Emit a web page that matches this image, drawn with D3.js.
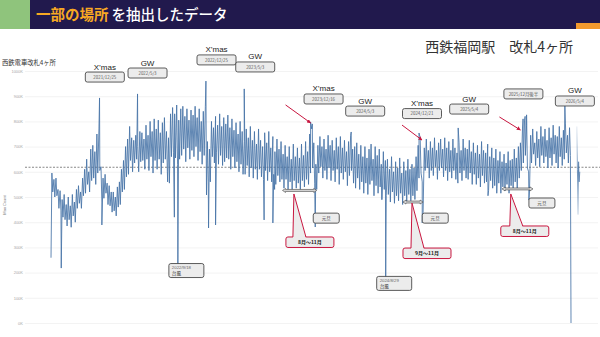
<!DOCTYPE html>
<html>
<head>
<meta charset="utf-8">
<script src="https://cdn.jsdelivr.net/npm/d3@7"></script>
<style>
  html, body { margin: 0; padding: 0; background: #fff; }
  svg { display: block; }
</style>
</head>
<body>
<svg id="chart" width="600" height="337"></svg>
<script>
/* ── data (values in thousands) ───────────────────────────────────── */

// each row of weekly values starts on the Monday given here
const weekStarts = ['2021-07-12', '2022-01-03', '2023-01-02', '2024-01-01', '2024-12-30', '2025-12-29'];

// weekday peak / weekend trough per week
const hi2021 = [595, 570, 575, 530, 525, 490, 510, 470, 500, 465, 510, 480, 530, 545, 520, 575, 610, 650, 600, 690, 705, 680, 750, 770, 620];
const lo2021 = [520, 500, 505, 455, 445, 420, 410, 385, 410, 380, 425, 400, 455, 475, 455, 505, 515, 550, 520, 565, 575, 550, 595, 605, 480];

const hi2022 = [575, 590, 555, 545, 520, 520, 500, 540, 560, 610, 645, 700, 730, 780, 735, 725, 745,
                700, 760, 755, 730, 785, 745, 800, 760, 810, 770, 805, 755, 795, 815, 760, 735, 830, 855,
                830, 865, 805, 850, 860, 820, 850, 805, 845, 825, 860, 815, 850, 800, 840, 860, 720];
const lo2022 = [495, 515, 470, 465, 440, 445, 425, 460, 470, 520, 530, 580, 590, 645, 600, 635, 650,
                600, 640, 645, 610, 650, 605, 660, 595, 645, 610, 650, 590, 635, 650, 600, 555, 660, 675,
                655, 630, 650, 665, 690, 640, 695, 650, 685, 660, 700, 645, 680, 630, 665, 690, 560];

const hi2023 = [690, 800, 775, 820, 785, 830, 780, 815, 790, 825, 775, 810, 765, 795, 750, 800, 760,
                720, 770, 735, 780, 725, 760, 710, 770, 725, 700, 755, 715, 760, 695, 740, 680, 730, 690,
                720, 670, 705, 660, 700, 650, 710, 660, 695, 655, 710, 665, 720, 680, 750, 770, 715];
const lo2023 = [560, 660, 635, 675, 630, 665, 625, 640, 655, 650, 610, 660, 615, 640, 600, 630, 590,
                590, 625, 580, 615, 575, 610, 570, 610, 580, 570, 605, 565, 600, 560, 590, 550, 585, 560,
                570, 535, 570, 530, 560, 530, 565, 535, 555, 530, 565, 540, 570, 550, 595, 615, 555];

const hi2024 = [630, 705, 740, 700, 730, 690, 745, 705, 725, 685, 735, 700, 740, 695, 725, 680, 720, 745,
                690, 700, 715, 670, 705, 660, 700, 655, 690, 710, 650, 700, 665, 690, 630, 680, 645,
                650, 610, 660, 600, 640, 615, 655, 595, 640, 605, 650, 610, 630, 615, 660, 705, 730];
const lo2024 = [530, 595, 620, 575, 605, 570, 615, 565, 605, 560, 610, 550, 595, 570, 600, 545, 585, 605,
                555, 535, 575, 530, 560, 515, 555, 510, 550, 565, 505, 545, 515, 540, 490, 530, 505,
                510, 480, 520, 475, 505, 485, 515, 470, 505, 480, 510, 485, 505, 490, 525, 575, 595];

const hi2025 = [560, 695, 730, 685, 720, 695, 735, 685, 715, 730, 690, 735, 695, 720, 685, 730, 695, 675,
                715, 685, 730, 695, 690, 725, 680, 715, 675, 705, 670, 720, 685, 675, 710, 660, 695,
                655, 690, 645, 680, 640, 670, 635, 680, 645, 650, 690, 655, 700, 715, 770, 805, 785];
const lo2025 = [440, 605, 615, 575, 605, 585, 620, 570, 605, 615, 580, 605, 565, 600, 575, 605, 570, 555,
                595, 565, 605, 575, 570, 595, 550, 590, 550, 575, 540, 585, 555, 560, 525, 565, 535,
                545, 515, 555, 515, 540, 525, 550, 515, 545, 530, 560, 535, 575, 605, 635, 665, 615];

const hi2026 = [600, 745, 770, 715, 760, 730, 780, 740, 770, 725, 775, 735, 785, 745, 740, 780, 735, 765, 790, 745, 775];
const lo2026 = [520, 635, 670, 625, 655, 620, 665, 635, 660, 615, 655, 625, 670, 635, 615, 660, 625, 650, 675, 635, 665];

const weeklyHigh = [hi2021, hi2022, hi2023, hi2024, hi2025, hi2026];
const weeklyLow  = [lo2021, lo2022, lo2023, lo2024, lo2025, lo2026];

// single days: holidays, typhoons, new year
const spikeDays = [
  ['2021-07-11', 259], ['2021-08-15', 218], ['2021-12-24', 893], ['2022-01-01', 389],
  ['2022-05-03', 909], ['2022-08-14', 560], ['2022-09-06', 420], ['2022-09-18', 230],
  ['2022-12-23', 960], ['2022-12-25', 508], ['2023-01-01', 377], ['2023-01-25', 389],
  ['2023-05-03', 929], ['2023-07-10', 409], ['2023-08-09', 397], ['2023-08-15', 530],
  ['2023-12-16', 798], ['2023-12-22', 790], ['2024-01-01', 381], ['2024-05-03', 758],
  ['2024-08-15', 490], ['2024-08-29', 179], ['2024-12-21', 754], ['2024-12-24', 740],
  ['2025-01-01', 397], ['2025-05-04', 774], ['2025-08-14', 505], ['2025-12-12', 810],
  ['2025-12-19', 820], ['2025-12-24', 826], ['2026-01-01', 488], ['2026-05-04', 865],
  ['2026-05-25', 0]
];

// partial last days (drawn faded)
const tailDates  = ['2026-06-14', '2026-06-16', '2026-06-18', '2026-06-20', '2026-06-22', '2026-06-24'];
const tailValues = [780, 610, 430, 640, 560, 600];

const refLevel = 618;
const yTicks = [0, 100, 200, 300, 400, 500, 600, 700, 800, 900, 1000];

// boxes above the line
const noteTitles = ['X’mas', 'GW', 'X’mas', 'GW', 'X’mas', 'GW', 'X’mas', 'GW', '', 'GW'];
const noteLabels = ['2021/12/25', '2022/5/3', '2022/12/25', '2023/5/3', '2023/12/16', '2024/5/3', '2024/12/21', '2025/5/4', '2025/12月後半', '2026/5/4'];
const noteDates  = ['2021-12-25', '2022-05-03', '2022-12-25', '2023-05-03', '2023-12-16', '2024-05-03', '2024-12-21', '2025-05-04', '2025-12-20', '2026-05-04'];
const noteLevels = [976, 992, 1044, 1016, 889, 841, 831, 849, 909, 881];
const noteShift  = [5, 10, 10, 11, 13, 14, 3, 11, -2, 10];

// red arrows to the year-end peaks
const peakDates  = ['2023-12-16', '2024-12-21', '2025-12-20'];
const peakLevels = [794, 726, 766];
const peakShift  = [0, 3, -5];
const peakTail   = [[-25, -18], [-20, -15], [-21, -13]];

// typhoon boxes
const typhoonDates  = ['2022-09-18', '2024-08-29'];
const typhoonLabels = ['2022/9/18', '2024/8/29'];
const typhoonLevels = [230, 179];

// new year boxes
const newYearDates  = ['2024-01-01', '2025-01-01', '2026-01-01'];
const newYearLevels = [436, 436, 496];
const newYearShift  = [-2, 0, 0];

// low season spans and their callouts
const spanStarts = ['2023-09-11', '2024-10-27', '2025-10-01'];
const spanEnds   = ['2024-01-06', '2025-01-04', '2026-01-15'];
const spanLevels = [526, 480, 532];
const calloutDates  = ['2023-10-20', '2024-11-27', '2025-10-31'];
const calloutLevels = [512, 476, 512];
const calloutBox    = [[-8, 43], [-9, 45], [-10, 32]];
const calloutLabels = ['8月〜11月', '9月〜11月', '8月〜11月'];

/* ── setup ────────────────────────────────────────────────────────── */
const JP = '"Noto Sans CJK JP", "Noto Sans", sans-serif';
const LAT = '"Liberation Sans", Arial, sans-serif';
const RED = '#c8163f';
const BLUE = '#4673a6';
const parse = d3.timeParse('%Y-%m-%d');
const svg = d3.select('#chart');

const x = d3.scaleTime().domain([parse('2021-04-13'), parse('2026-07-29')]).range([25, 590]);
const y = d3.scaleLinear().domain([0, 1000]).range([323, 71]);

/* header */
svg.append('rect').attr('width', 30).attr('height', 29).attr('fill', '#8fc47c');
svg.append('rect').attr('x', 30).attr('width', 570).attr('height', 29).attr('fill', '#21194d');
svg.append('rect').attr('x', 576).attr('y', 23).attr('width', 24).attr('height', 6).attr('fill', '#f29a2e');
const ttl = svg.append('text').attr('x', 36).attr('y', 19.5)
  .attr('font-family', JP).attr('font-size', 14.5);
ttl.append('tspan').attr('fill', '#f7a823').attr('font-weight', 700).text('一部の場所');
ttl.append('tspan').attr('fill', '#fff').attr('font-weight', 500).attr('dx', 3).text('を抽出したデータ');

svg.append('text').attr('x', 573).attr('y', 52).attr('text-anchor', 'end')
  .attr('font-family', JP).attr('font-size', 14).attr('fill', '#333')
  .text('西鉄福岡駅　改札4ヶ所');

svg.append('text').attr('x', 2).attr('y', 64.5)
  .attr('font-family', JP).attr('font-size', 6.3).attr('fill', '#333')
  .text('西鉄電車改札4ヶ所');

/* grid + y axis */
const g = svg.append('g');
g.append('g').attr('transform', 'translate(25,0)')
  .call(d3.axisLeft(y).tickValues(yTicks).tickSize(-573).tickFormat(''))
  .call(a => a.select('.domain').remove())
  .call(a => a.selectAll('line').attr('stroke', '#eeeeee').attr('stroke-width', 0.7));
g.append('g').attr('transform', 'translate(23,0)')
  .call(d3.axisLeft(y).tickValues(yTicks).tickSize(0).tickPadding(0).tickFormat(d => d + 'K'))
  .call(a => a.select('.domain').remove())
  .call(a => a.selectAll('text').attr('font-family', LAT).attr('font-size', 4)
    .attr('fill', '#a8a8a8'));
svg.append('text').attr('transform', 'translate(6,205) rotate(-90)')
  .attr('text-anchor', 'middle').attr('font-family', LAT).attr('font-size', 4)
  .attr('fill', '#777').text('Max Count');

/* reference line */
g.append('line').attr('x1', x.range()[0]).attr('x2', 600)
  .attr('y1', y(refLevel)).attr('y2', y(refLevel))
  .attr('stroke', '#555').attr('stroke-width', 0.7).attr('stroke-dasharray', '2,1.5');

/* series */
const series = [];
weekStarts.forEach((s, k) => {
  const t0 = parse(s);
  weeklyHigh[k].forEach((v, i) => {
    series.push({ t: d3.timeDay.offset(t0, i * 7 + 2), v });
    series.push({ t: d3.timeDay.offset(t0, i * 7 + 5), v: weeklyLow[k][i] });
  });
});
spikeDays.forEach(([d, v]) => series.push({ t: parse(d), v }));
series.sort((a, b) => a.t - b.t);

const line = d3.line().x(d => x(d.t)).y(d => y(d.v));
g.append('path').datum(series)
  .attr('fill', 'none').attr('stroke', BLUE).attr('stroke-width', 0.85)
  .attr('stroke-linejoin', 'round').attr('d', line);

/* faded tail */
const grad = svg.append('defs').append('linearGradient').attr('id', 'fade')
  .attr('gradientUnits', 'userSpaceOnUse')
  .attr('x1', 0).attr('x2', 0).attr('y1', y(820)).attr('y2', y(380));
grad.append('stop').attr('offset', 0).attr('stop-color', BLUE).attr('stop-opacity', 0);
grad.append('stop').attr('offset', 0.5).attr('stop-color', BLUE).attr('stop-opacity', 0.85);
grad.append('stop').attr('offset', 1).attr('stop-color', BLUE).attr('stop-opacity', 0);
g.append('path').datum(tailDates.map((d, i) => ({ t: parse(d), v: tailValues[i] })))
  .attr('fill', 'none').attr('stroke', 'url(#fade)').attr('stroke-width', 0.9).attr('d', line);

/* ── annotations ───────────────────────────────────────────────────── */
const ann = svg.append('g');

function box(parent, x0, y0, w, h, stroke) {
  return parent.append('rect').attr('x', x0).attr('y', y0).attr('width', w).attr('height', h)
    .attr('rx', 2).attr('fill', '#ececec').attr('stroke', stroke || '#4a4a4a').attr('stroke-width', 0.9);
}

noteLabels.forEach((lab, i) => {
  const cx = x(parse(noteDates[i])) + noteShift[i];
  const cy = y(noteLevels[i]);
  box(ann, cx - 19.5, cy - 5, 39, 10);
  ann.append('text').attr('x', cx).attr('y', cy + 1.6).attr('text-anchor', 'middle')
    .attr('font-family', JP).attr('font-size', 4.4).attr('fill', '#555').text(lab);
  if (noteTitles[i]) {
    ann.append('text').attr('x', cx).attr('y', cy - 7.5).attr('text-anchor', 'middle')
      .attr('font-family', LAT).attr('font-size', 8).attr('fill', '#222').text(noteTitles[i]);
  }
});

const defs = svg.select('defs');
defs.append('marker').attr('id', 'head').attr('viewBox', '0 0 10 10')
  .attr('refX', 9).attr('refY', 5).attr('markerWidth', 4).attr('markerHeight', 4)
  .attr('orient', 'auto')
  .append('path').attr('d', 'M0,0L10,5L0,10Z').attr('fill', RED);

peakDates.forEach((d, i) => {
  const tx = x(parse(d)) + peakShift[i], ty = y(peakLevels[i]);
  ann.append('line').attr('x1', tx + peakTail[i][0]).attr('y1', ty + peakTail[i][1])
    .attr('x2', tx).attr('y2', ty)
    .attr('stroke', RED).attr('stroke-width', 1).attr('marker-end', 'url(#head)');
});

typhoonDates.forEach((d, i) => {
  const left = x(parse(d)) - 9, top = y(typhoonLevels[i]) - 1.5;
  box(ann, left, top, 35, 14);
  ann.append('text').attr('x', left + 3).attr('y', top + 5.8)
    .attr('font-family', LAT).attr('font-size', 4.3).attr('fill', '#666').text(typhoonLabels[i]);
  ann.append('text').attr('x', left + 3).attr('y', top + 11.6)
    .attr('font-family', JP).attr('font-size', 4.6).attr('fill', '#222').text('台風');
});

newYearDates.forEach((d, i) => {
  const left = x(parse(d)) + newYearShift[i], top = y(newYearLevels[i]);
  box(ann, left, top, 26, 10);
  ann.append('text').attr('x', left + 13).attr('y', top + 6.6).attr('text-anchor', 'middle')
    .attr('font-family', JP).attr('font-size', 4.6).attr('fill', '#333').text('元旦');
});

spanStarts.forEach((s, i) => {
  const x1 = x(parse(s)), x2 = x(parse(spanEnds[i])), yc = y(spanLevels[i]);
  const pts = [[x1, yc], [x1 + 3, yc - 2], [x1 + 3, yc - 1], [x2 - 3, yc - 1], [x2 - 3, yc - 2],
               [x2, yc], [x2 - 3, yc + 2], [x2 - 3, yc + 1], [x1 + 3, yc + 1], [x1 + 3, yc + 2]];
  ann.append('polygon').attr('points', pts.map(p => p.join(',')).join(' '))
    .attr('fill', '#d8d8d8').attr('stroke', '#444').attr('stroke-width', 0.6);
});

calloutDates.forEach((d, i) => {
  const ax = x(parse(d)), ay = y(calloutLevels[i]);
  const bx = ax + calloutBox[i][0], by = ay + calloutBox[i][1];
  box(ann, bx, by, 48, 10.5, RED).attr('stroke-width', 1);
  ann.append('polygon')
    .attr('points', `${ax},${ay} ${ax - 1},${by + 1.2} ${ax + 12},${by + 1.2}`)
    .attr('fill', '#ececec');
  ann.append('polyline')
    .attr('points', `${ax - 1},${by} ${ax},${ay} ${ax + 12},${by}`)
    .attr('fill', 'none').attr('stroke', RED).attr('stroke-width', 1);
  ann.append('text').attr('x', bx + 24).attr('y', by + 7).attr('text-anchor', 'middle')
    .attr('font-family', JP).attr('font-size', 5).attr('font-weight', 700)
    .attr('fill', '#222').text(calloutLabels[i]);
});
</script>
</body>
</html>
